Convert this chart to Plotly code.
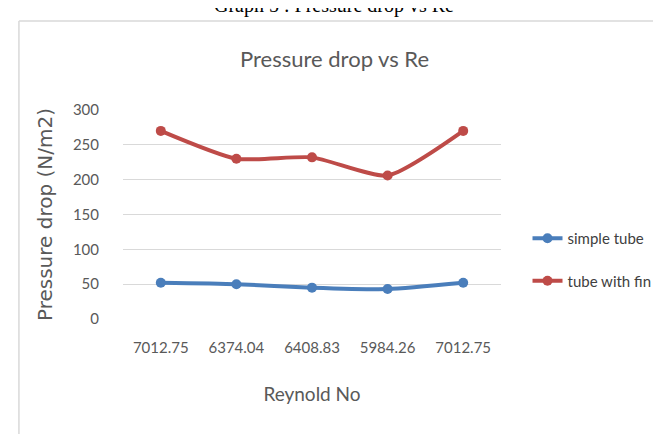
import plotly.graph_objects as go

reynolds_labels = ["7012.75", "6374.04", "6408.83", "5984.26", "7012.75"]
simple_tube = [52, 50, 45, 43, 52]
tube_with_fin = [270, 230, 232, 206, 270]
y_ticks = [0, 50, 100, 150, 200, 250, 300]

W, H = 661, 434
L, R, T, B = 115, 161, 102, 123
pw, ph = W - L - R, H - T - B

def px(x):
    return (x - L) / pw

def py(y):
    return (H - B - y) / ph

xs = list(range(len(reynolds_labels)))

fig = go.Figure()
fig.add_trace(go.Scatter(
    x=xs, y=simple_tube, name="simple tube", mode="lines+markers",
    line=dict(color="#4A7EBB", width=4, shape="spline", smoothing=0.6),
    marker=dict(size=10, color="#4A7EBB"), legendgroup="a"))
fig.add_trace(go.Scatter(
    x=xs, y=tube_with_fin, name="tube with fin", mode="lines+markers",
    line=dict(color="#BE4B48", width=4, shape="spline", smoothing=0.6),
    marker=dict(size=10, color="#BE4B48"), legendgroup="b"))

tick_font = dict(family="Lato, sans-serif", size=15, color="#595959")

fig.update_layout(
    width=W, height=H,
    margin=dict(l=L, r=R, t=T, b=B),
    paper_bgcolor="white", plot_bgcolor="white",
    showlegend=True,
    legend=dict(x=px(527), y=py(214), xanchor="left", yanchor="top",
                font=dict(family="Lato, sans-serif", size=15, color="#404040"),
                tracegroupgap=20, itemwidth=30, traceorder="grouped",
                bgcolor="rgba(0,0,0,0)"),
    xaxis=dict(range=[-0.5, 4.5], tickmode="array", tickvals=xs, ticktext=reynolds_labels,
               showgrid=False, zeroline=False, showline=False, ticks="",
               tickfont=tick_font, ticklabelstandoff=18,
               title=dict(text="Reynold No", standoff=32,
                          font=dict(family="Lato, sans-serif", size=19, color="#595959"))),
    yaxis=dict(range=[0, 300], tickmode="array", tickvals=y_ticks,
               showgrid=True, gridcolor="#D9D9D9", gridwidth=1.3, zeroline=False,
               showline=False, ticks="", tickfont=tick_font, ticklabelstandoff=23,
               title=dict(text="Pressure drop (N/m2)", standoff=14,
                          font=dict(family="Verdana, DejaVu Sans, sans-serif", size=20, color="#595959"))),
    shapes=[
        dict(type="line", xref="paper", yref="paper", x0=px(9), x1=px(700), y0=py(13), y1=py(13),
             line=dict(color="#D9D9D9", width=1.5)),
        dict(type="line", xref="paper", yref="paper", x0=px(9), x1=px(9), y0=py(13), y1=py(470),
             line=dict(color="#D9D9D9", width=1.5)),
    ],
    annotations=[
        dict(text="Pressure drop vs Re", xref="paper", yref="paper", x=px(330), y=py(50),
             xanchor="center", yanchor="middle", showarrow=False,
             font=dict(family="Lato, sans-serif", size=22, color="#595959")),
        dict(text="Graph 5 : Pressure drop vs Re", xref="paper", yref="paper", x=px(330), y=py(11),
             xanchor="center", yanchor="bottom", showarrow=False,
             font=dict(family="Liberation Serif, serif", size=20, color="#000000")),
    ],
)

fig.write_html("out.html")
